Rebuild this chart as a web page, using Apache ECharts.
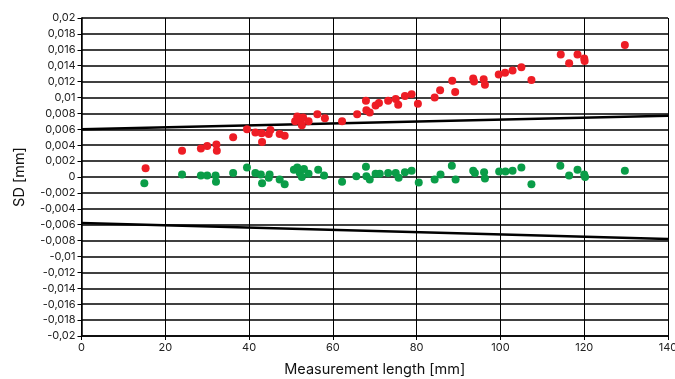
<!DOCTYPE html>
<html>
<head>
<meta charset="utf-8">
<script src="https://cdn.jsdelivr.net/npm/echarts@6/dist/echarts.min.js"></script>
<style>html,body{margin:0;padding:0;background:#fff;}#c{width:675px;height:379px;}</style>
</head>
<body>
<div id="c"></div>
<script>
var xTicks = [0, 20, 40, 60, 80, 100, 120, 140];
var redX = [15.3,24.0,28.5,30.0,32.2,32.3,36.2,39.5,41.5,43.0,43.1,44.7,45.1,47.3,48.5,51.0,51.5,52.3,52.6,52.9,54.2,56.3,58.1,62.2,65.8,67.9,68.0,68.8,70.2,71.0,73.2,75.0,75.6,77.2,78.8,80.3,84.3,85.6,88.5,89.2,93.5,93.7,96.0,96.3,99.6,101.1,102.9,105.0,107.4,114.4,116.4,118.4,120.0,120.1,129.7];
var redY = [0.0011,0.0033,0.0036,0.0039,0.0041,0.0033,0.0050,0.0060,0.0056,0.0055,0.0044,0.0054,0.0059,0.0054,0.0052,0.0070,0.0076,0.0070,0.0065,0.0075,0.0070,0.0079,0.0074,0.0070,0.0079,0.0096,0.0084,0.0081,0.0090,0.0093,0.0096,0.0098,0.0091,0.0102,0.0104,0.0092,0.0100,0.0109,0.0121,0.0107,0.0124,0.0120,0.0123,0.0116,0.0129,0.0131,0.0134,0.0138,0.0122,0.0154,0.0143,0.0154,0.0149,0.0146,0.0166];
var greenX = [15.0,24.0,28.5,30.0,32.0,32.1,36.2,39.5,41.5,42.8,43.1,44.7,44.9,47.3,48.5,50.7,51.5,52.1,52.6,53.1,54.2,56.5,57.9,62.2,65.6,67.9,68.0,68.8,70.2,71.2,73.2,75.0,75.7,77.2,78.8,80.5,84.3,85.7,88.4,89.3,93.5,93.9,96.1,96.3,99.7,101.2,102.9,105.0,107.4,114.3,116.4,118.4,120.0,120.2,129.7];
var greenY = [-0.0008,0.0003,0.0002,0.0002,0.0002,-0.0006,0.0005,0.0012,0.0005,0.0003,-0.0008,-0.0001,0.0003,-0.0003,-0.0009,0.0009,0.0012,0.0005,0.0000,0.0010,0.0004,0.0009,0.0002,-0.0006,0.0001,0.0013,0.0001,-0.0003,0.0004,0.0004,0.0005,0.0005,-0.0001,0.0006,0.0008,-0.0007,-0.0003,0.0003,0.0014,-0.0003,0.0008,0.0005,0.0006,-0.0002,0.0007,0.0007,0.0008,0.0012,-0.0009,0.0014,0.0002,0.0009,0.0003,0.0000,0.0008];
var limitX = [0, 140];
var upperLimit = [0.006, 0.0077];
var lowerLimit = [-0.0058, -0.0078];

function pairs(xs, ys) { return xs.map(function (x, i) { return [x, ys[i]]; }); }

var FONT = 'Inter';
var chart = echarts.init(document.getElementById('c'), null, {renderer: 'canvas'});
chart.setOption({
  animation: false,
  backgroundColor: '#ffffff',
  grid: {left: 81.5, right: 7, top: 18, bottom: 43, containLabel: false, outerBoundsMode: 'none'},
  xAxis: {
    type: 'value', min: 0, max: 140, interval: 20,
    name: 'Measurement length [mm]', nameLocation: 'middle', nameGap: 26,
    nameTextStyle: {fontFamily: FONT, fontSize: 14.5, color: '#111'},
    axisLine: {show: true, onZero: false, lineStyle: {color: '#000', width: 1.5}},
    axisTick: {show: true, length: 4, lineStyle: {color: '#000'}},
    axisLabel: {fontFamily: FONT, fontSize: 11, color: '#222', margin: 6},
    splitLine: {show: true, lineStyle: {color: '#000', width: 1}}
  },
  yAxis: {
    type: 'value', min: -0.02, max: 0.02, interval: 0.002,
    name: 'SD [mm]', nameLocation: 'middle', nameGap: 54,
    nameTextStyle: {fontFamily: FONT, fontSize: 14.5, color: '#111'},
    axisLine: {show: true, onZero: false, lineStyle: {color: '#000', width: 1.5}},
    axisTick: {show: true, length: 4, lineStyle: {color: '#000'}},
    axisLabel: {fontFamily: FONT, fontSize: 11, color: '#222', margin: 6,
      formatter: function (v) {
        var r = Math.round(v * 1000) / 1000;
        if (Math.abs(r) < 1e-9) return '0';
        return String(r).replace('.', ',');
      }},
    splitLine: {show: true, lineStyle: {color: '#404040', width: 1.8}}
  },
  series: [
    {type: 'line', data: pairs(limitX, upperLimit), symbol: 'none', lineStyle: {color: '#000', width: 2.5}, z: 3},
    {type: 'line', data: pairs(limitX, lowerLimit), symbol: 'none', lineStyle: {color: '#000', width: 2.5}, z: 3},
    {type: 'scatter', data: pairs(redX, redY), symbol: 'circle', symbolSize: 8, itemStyle: {color: '#ee1d25', opacity: 1}, z: 4},
    {type: 'scatter', data: pairs(greenX, greenY), symbol: 'circle', symbolSize: 8, itemStyle: {color: '#0a9d48', opacity: 1}, z: 4}
  ]
});
</script>
</body>
</html>
